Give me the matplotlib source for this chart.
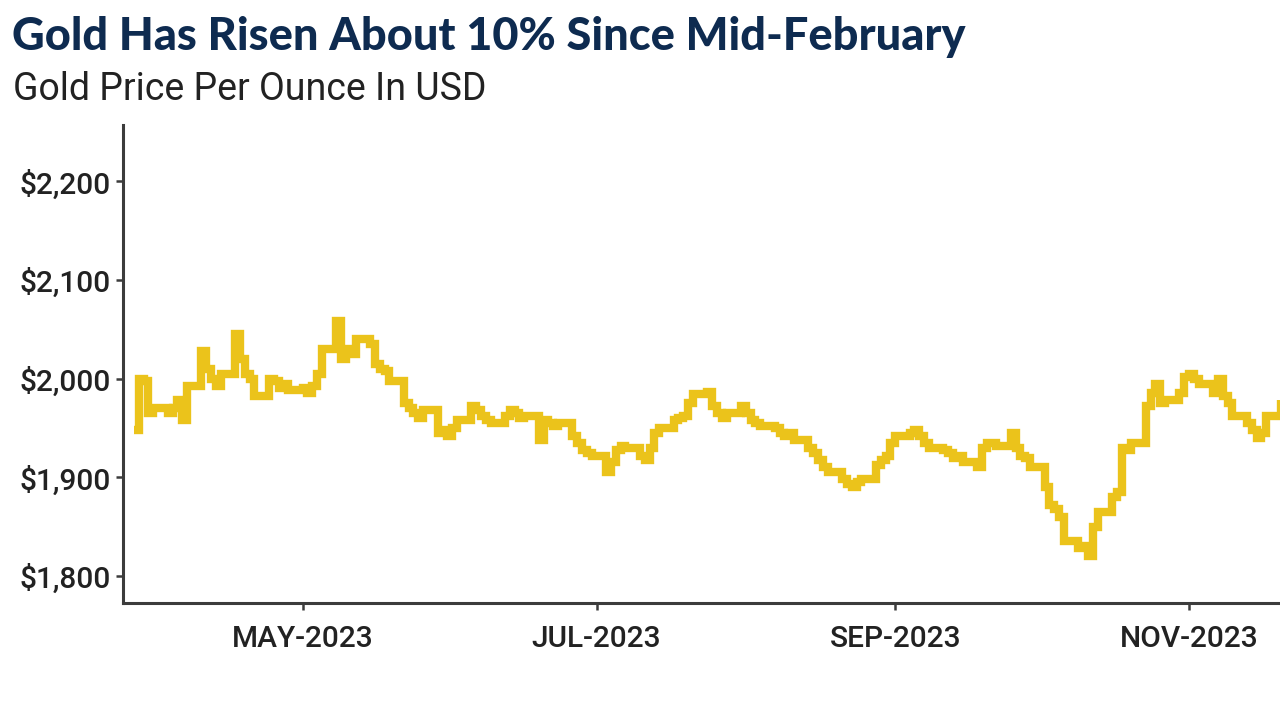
import matplotlib
matplotlib.use("Agg")
import matplotlib.pyplot as plt
import pandas as pd

# ---------------- data ----------------
title = "Gold Has Risen About 10% Since Mid-February"
subtitle = "Gold Price Per Ounce In USD"

start_date = "2023-03-27"
end_date = "2023-11-20"

gold_price = [
    1948, 2000, 1998, 1965, 1970,   # Mar 27
    1965, 1970, 1978, 1958, 1992,   # Apr 3
    2028, 2010, 2000, 1992, 2005,   # Apr 10
    2045, 2020, 2005, 2000, 1982,   # Apr 17
    2000, 1998, 1990, 1995, 1988,   # Apr 24
    1990, 1985, 1992, 2005, 2030,   # May 1
    2058, 2020, 2030, 2025, 2040,   # May 8
    2035, 2015, 2010, 2008, 1998,   # May 15
    1975, 1970, 1965, 1960, 1968,   # May 22
    1945, 1948, 1942, 1950, 1958,   # May 29
    1972, 1968, 1962, 1958, 1955,   # Jun 5
    1962, 1968, 1965, 1960, 1962,   # Jun 12
    1938, 1958, 1955, 1952, 1955,   # Jun 19
    1942, 1935, 1928, 1925, 1922,   # Jun 26
    1905, 1915, 1928, 1932, 1930,   # Jul 3
    1922, 1918, 1930, 1945, 1950,   # Jul 10
    1958, 1960, 1962, 1975, 1984,   # Jul 17
    1986, 1972, 1965, 1960, 1965,   # Jul 24
    1972, 1965, 1958, 1955, 1952,   # Jul 31
    1950, 1945, 1942, 1945, 1938,   # Aug 7
    1930, 1925, 1918, 1910, 1905,   # Aug 14
    1898, 1893, 1890, 1895, 1898,   # Aug 21
    1912, 1918, 1922, 1935, 1942,   # Aug 28
    1945, 1948, 1942, 1935, 1930,   # Sep 4
    1928, 1925, 1920, 1922, 1915,   # Sep 11
    1910, 1930, 1935, 1935, 1932,   # Sep 18
    1945, 1930, 1922, 1920, 1910,   # Sep 25
    1890, 1872, 1868, 1860, 1835,   # Oct 2
    1828, 1830, 1820, 1850, 1865,   # Oct 9
    1880, 1885, 1930, 1928, 1935,   # Oct 16
    1972, 1985, 1995, 1975, 1978,   # Oct 23
    1985, 2002, 2005, 2000, 1995,   # Oct 30
    1985, 2000, 1982, 1975, 1962,   # Nov 6
    1955, 1948, 1940, 1945, 1962,   # Nov 13
    1978,                           # Nov 20
]

y_ticks = [1800, 1900, 2000, 2100, 2200]
y_tick_labels = ["$1,800", "$1,900", "$2,000", "$2,100", "$2,200"]
x_tick_dates = ["2023-05-01", "2023-07-01", "2023-09-01", "2023-11-01"]
x_tick_labels = ["MAY-2023", "JUL-2023", "SEP-2023", "NOV-2023"]

dates = pd.bdate_range(start_date, end_date)
series = pd.Series(gold_price, index=dates)

# ---------------- style ----------------
GOLD = "#EBC31B"
NAVY = "#0E2B50"
TEXT = "#222222"
SPINE = "#3C3C3C"

plt.rcParams["font.family"] = ["Roboto", "DejaVu Sans"]

fig = plt.figure(figsize=(12.8, 7.2), dpi=100)
ax = fig.add_axes([123 / 1280, 1 - 603 / 720, 1 - 123 / 1280, (603 - 125) / 720])

ax.plot(series.index, series.values, color=GOLD, lw=6,
        drawstyle="steps-post", solid_joinstyle="miter", solid_capstyle="butt")

ax.set_xlim(pd.Timestamp("2023-03-24 17:00"), pd.Timestamp("2023-11-19 21:00"))
ax.set_ylim(1772.6, 2257)

ax.set_yticks(y_ticks)
ax.set_yticklabels(y_tick_labels)
ax.set_xticks(pd.to_datetime(x_tick_dates))
ax.set_xticklabels(x_tick_labels)

for s in ["top", "right"]:
    ax.spines[s].set_visible(False)
for s in ["left", "bottom"]:
    ax.spines[s].set_color(SPINE)
    ax.spines[s].set_linewidth(2.2)

ax.tick_params(axis="y", length=5, width=1.8, color=SPINE, labelsize=21.5,
               labelcolor=TEXT, pad=4)
ax.tick_params(axis="x", length=5, width=1.8, color=SPINE, labelsize=21.5,
               labelcolor=TEXT, pad=11)
for lab in ax.get_xticklabels() + ax.get_yticklabels():
    lab.set_fontweight("medium")

fig.text(12 / 1280, 1 - 37 / 720, title, fontsize=32.5, fontweight="black",
         color=NAVY, va="center", ha="left", family=["Lato", "DejaVu Sans"])
fig.text(13 / 1280, 1 - 89 / 720, subtitle, fontsize=27, color=TEXT,
         va="center", ha="left")

fig.savefig("out.png", dpi=100)
